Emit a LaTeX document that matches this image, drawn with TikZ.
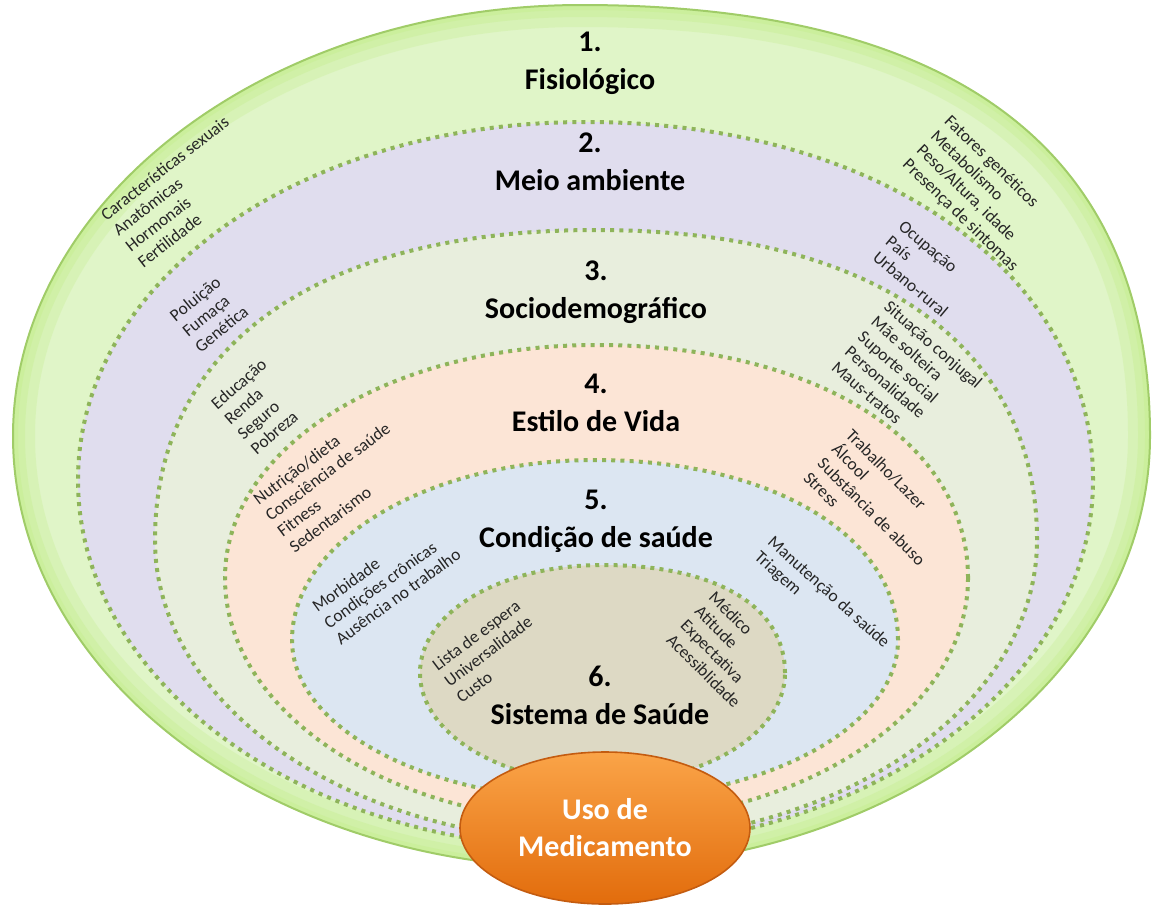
\documentclass[tikz,border=0pt]{standalone}
\usepackage{fontspec}
\setmainfont{Carlito}
\usetikzlibrary{shapes.geometric,positioning}
\definecolor{dotgreen}{RGB}{142,180,90}
\definecolor{rimgreen}{RGB}{160,204,104}
\definecolor{fisio}{RGB}{224,245,200}
\definecolor{fisioglow}{RGB}{200,239,150}
\definecolor{meio}{RGB}{224,221,238}
\definecolor{socio}{RGB}{232,238,221}
\definecolor{estilo}{RGB}{252,229,214}
\definecolor{condicao}{RGB}{220,230,242}
\definecolor{sistema}{RGB}{221,217,196}
\definecolor{orangetop}{RGB}{250,164,72}
\definecolor{orangebot}{RGB}{226,108,12}
\definecolor{orangerim}{RGB}{196,92,16}
% cx, cy, rx, ry top, ry bottom, k top left, k top right
\newcommand\layeroval[7]{({#1+#3},#2)
 .. controls ({#1+#3},{#2-#7*#4}) and ({#1+#7*#3},{#2-#4}) .. (#1,{#2-#4})
 .. controls ({#1-#6*#3},{#2-#4}) and ({#1-#3},{#2-#6*#4}) .. ({#1-#3},#2)
 .. controls ({#1-#3},{#2+0.5523*#5}) and ({#1-0.5523*#3},{#2+#5}) .. (#1,{#2+#5})
 .. controls ({#1+0.5523*#3},{#2+#5}) and ({#1+#3},{#2+0.5523*#5}) .. ({#1+#3},#2) -- cycle}

\begin{document}
\begin{tikzpicture}[x=0.5pt,y=-0.5pt,
 layer/.style={draw=dotgreen,line width=2pt,dash pattern=on 2pt off 2.6pt},
 title/.style={font=\bfseries\fontsize{15}{19}\selectfont,align=center},
 factor/.style={font=\fontsize{8.7}{10}\selectfont,align=left,inner sep=0pt,anchor=north west,text=black!85}]
\useasboundingbox (0,0) rectangle (1159,907);
\path[fill=fisio] \layeroval{581.5}{436}{568.5}{431}{432}{0.55}{0.66};
\begin{scope}
\clip \layeroval{581.5}{436}{568.5}{431}{432}{0.55}{0.66};
\draw[fisioglow,line width=22pt,opacity=0.35] \layeroval{581.5}{436}{568.5}{431}{432}{0.55}{0.66};
\draw[fisioglow,line width=12pt,opacity=0.45] \layeroval{581.5}{436}{568.5}{431}{432}{0.55}{0.66};
\draw[fisioglow,line width=5pt,opacity=0.6] \layeroval{581.5}{436}{568.5}{431}{432}{0.55}{0.66};
\end{scope}
\draw[rimgreen,line width=1pt] \layeroval{581.5}{436}{568.5}{431}{432}{0.55}{0.66};
\path[layer,fill=meio] \layeroval{585.5}{480}{507.5}{358}{368}{0.56}{0.58};
\path[layer,fill=socio] \layeroval{596}{540}{441}{310}{302}{0.63}{0.63};
\path[layer,fill=estilo] \layeroval{596.5}{578}{371.5}{233}{244}{0.56}{0.59};
\path[layer,fill=condicao] \layeroval{595}{640}{303}{180}{160}{0.55}{0.58};
\path[layer,fill=sistema] \layeroval{602.5}{673}{182.5}{108}{110}{0.56}{0.62};
\node[ellipse,inner sep=0pt,top color=orangetop,bottom color=orangebot,draw=orangerim,line width=0.8pt,minimum width=145pt,minimum height=76pt,text=white,font=\bfseries\fontsize{15}{18.5}\selectfont,align=center] (uso) at (605,828) {Uso de\\Medicamento};

\node[title] (t1) at (590,63) {1.\\Fisiológico};
\node[title] (t2) at (590,162) {2.\\Meio ambiente};
\node[title] (t3) at (596,292) {3.\\Sociodemográfico};
\node[title] (t4) at (596,403) {4.\\Estilo de Vida};
\node[title] (t5) at (596,521) {5.\\Condição de saúde};
\node[title] (t6) at (600,695) {6.\\Sistema de Saúde};

\node[factor,rotate=38] (f1) at (98.6,211.5) {Características sexuais\\Anatômicas\\Hormonais\\Fertilidade};
\node[factor,rotate=-44] (f2) at (952,113.4) {Fatores genéticos\\Metabolismo\\Peso/Altura, idade\\Presença de sintomas};
\node[factor,rotate=39] (f3) at (167.5,312.7) {Poluição\\Fumaça\\Genética};
\node[factor,rotate=41] (f4) at (209,401) {Educação\\Renda\\Seguro\\Pobreza};
\node[factor,rotate=-40] (f5) at (905,219) {Ocupação\\País\\Urbano-rural};
\node[factor,rotate=-41] (f6) at (891,299) {Situação conjugal\\Mãe solteira\\Suporte social\\Personalidade\\Maus-tratos};
\node[factor,rotate=37] (f7) at (251,496) {Nutrição/dieta\\Consciência de saúde\\Fitness\\Sedentarismo};
\node[factor,rotate=-45] (f8) at (853.5,427.5) {Trabalho/Lazer\\Álcool\\Substância de abuso\\Stress};
\node[factor,rotate=36] (f9) at (310,603) {Morbidade\\Condições crônicas\\Ausência no trabalho};
\node[factor,rotate=-42] (f10) at (775,534) {Manutenção da saúde\\Triagem};
\node[factor,rotate=37] (f11) at (430,662) {Lista de espera\\Universalidade\\Custo};
\node[factor,rotate=-45] (f12) at (716.5,589.5) {Médico\\Atitude\\Expectativa\\Acessiblidade};
\end{tikzpicture}
\end{document}
